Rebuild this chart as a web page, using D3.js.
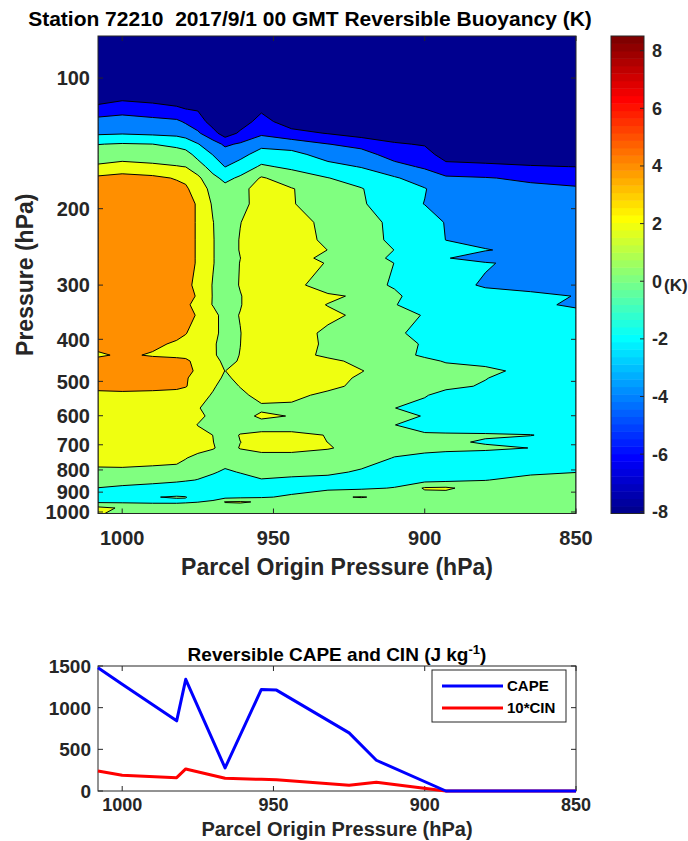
<!DOCTYPE html>
<html>
<head>
<meta charset="utf-8">
<script src="https://cdn.jsdelivr.net/npm/d3@7"></script>
<style>
  body { margin: 0; background: #fff; }
  text { font-family: "Liberation Sans", Arial, Helvetica, sans-serif; font-weight: bold; white-space: pre; }
</style>
</head>
<body>
<svg id="chart" width="688" height="841"></svg>
<script>
// ---- Reversible buoyancy field (K): rows = pressure level, columns = parcel origin pressure ----
const originPressure = [1008, 1000, 990, 982, 979, 975, 970, 966, 961, 954, 944, 932, 921, 910, 900, 893, 880, 865, 850];
const pressureLevels = [80, 100, 110, 118, 126, 134, 142, 150, 160, 170, 180, 195, 215, 236, 249, 260, 267, 300, 318, 333, 352, 387, 410, 435, 449, 473, 491, 513, 538, 576, 601, 630, 665, 690, 712, 751, 809, 844, 881, 924, 948, 979, 1008];
const buoyancy = [
  [-8, -8, -8, -8, -8, -8, -8, -8, -8, -8, -8, -8, -8, -8, -8, -8, -8, -8, -8],
  [-7.5, -7.3, -7.5, -7.5, -7.5, -7.5, -7.5, -7.5, -7.5, -7.5, -7.5, -7.5, -7.5, -7.5, -7.5, -7.5, -7.5, -7.5, -7.5],
  [-7.5, -6.75, -7.08, -7.5, -7.5, -7.5, -7.5, -7.5, -7.5, -7.4, -7.5, -7.5, -7.5, -7.5, -7.5, -7.5, -7.5, -7.5, -7.5],
  [-5.16, -4.65, -5.05, -5.56, -5.97, -6.17, -7.2, -7.5, -7.4, -6.3, -7.1, -7.3, -7.3, -7.3, -7.4, -7.5, -7.5, -7.5, -7.5],
  [-3.33, -3.24, -3.47, -3.66, -4.24, -4.98, -6.9, -7.3, -6.9, -5.32, -7.0, -7.0, -7.0, -7.1, -7.2, -7.3, -7.3, -7.3, -7.3],
  [-2.31, -2.17, -2.38, -2.57, -2.86, -3.74, -5.3, -7.0, -5.7, -4.37, -5.38, -6.1, -6.9, -7.0, -7.0, -7.2, -7.2, -7.2, -7.2],
  [-0.05, 0.14, 0.01, -0.45, -0.92, -1.9, -3.23, -4.32, -3.77, -2.58, -2.94, -3.96, -4.61, -5.81, -6.15, -7.0, -7.0, -7.0, -7.0],
  [0.98, 1.14, 1.01, 0.87, 0.74, -0.67, -2.07, -3.13, -2.62, -1.16, -1.41, -2.81, -3.27, -4.79, -5.28, -6.8, -6.9, -6.9, -6.9],
  [2.27, 2.66, 2.38, 2.09, 1.96, 0.88, -0.84, -2.05, -1.14, 0.27, -0.37, -1.4, -2.1, -3.39, -4.27, -5.44, -5.65, -5.9, -6.02],
  [4.4, 4.8, 4.45, 3.85, 3.57, 2.4, 0.5, -0.49, 0.3, 2.2, 1.0, 0.05, -0.8, -1.8, -2.92, -3.7, -3.9, -4.3, -4.64],
  [5, 5.2, 5.1, 4.6, 4.3, 3.0, 1.4, 0.6, 1.3, 3.0, 2.1, 0.9, 0.1, -1.2, -1.9, -3.0, -3.4, -3.6, -3.8],
  [5, 5.2, 5.1, 5, 4.6, 3.83, 1.75, 1.0, 1.25, 3.0, 2.1, 1.2, 0.2, -1.0, -2.05, -2.6, -3.0, -3.2, -3.4],
  [5.1, 5.2, 5.1, 5, 4.6, 3.83, 2.05, 1.0, 1.95, 3.0, 3.0, 1.36, 0.8, -0.47, -1.0, -2.12, -2.8, -3.0, -3.2],
  [5.1, 5.2, 5.1, 5.0, 4.6, 3.83, 2.1, 1.0, 2.1, 3.2, 3.2, 1.49, 0.8, -0.38, -1.2, -2.02, -2.6, -2.9, -3.1],
  [5.1, 5.2, 5.1, 5.0, 4.6, 3.83, 2.1, 1.0, 2.1, 3.2, 3.4, 1.97, 1.0, -0.02, -0.8, -1.4, -1.9, -2.51, -3.0],
  [5.1, 5.2, 5.1, 5.0, 4.6, 3.83, 2.1, 1.0, 1.98, 3.2, 3.2, 1.23, 0.8, -0.30, -1.3, -1.9, -2.8, -3.0, -3.0],
  [5.1, 5.2, 5.1, 5.0, 4.6, 3.83, 2.1, 1.0, 2.05, 3.3, 3.4, 1.82, 1.0, -0.02, -0.8, -1.3, -1.85, -2.5, -2.9],
  [5.1, 5.2, 5.1, 5.0, 4.6, 3.4, 1.9, 1.0, 2.12, 3.2, 3.0, 0.37, 0.6, -0.17, -1.0, -1.4, -2.19, -2.6, -2.8],
  [5.1, 5.2, 5.1, 5.0, 4.6, 3.83, 1.9, 1.0, 1.9, 3.2, 3.4, 2.5, 1.55, 0.3, -0.88, -1.1, -1.4, -1.6, -2.05],
  [5.1, 5.2, 5.1, 5.0, 4.6, 2.93, 1.93, 1.0, 1.9, 3.2, 3.2, 1.91, 1.0, 0.1, -1.0, -1.2, -1.5, -1.7, -2.22],
  [5.1, 5.2, 5.1, 5.0, 4.6, 3.83, 2.5, 1.41, 2.07, 3.2, 3.4, 2.5, 1.55, 0.6, -0.10, -0.7, -1.1, -1.3, -1.5],
  [5.1, 5.2, 5.1, 4.8, 4.1, 3.0, 2.3, 1.65, 1.95, 3.2, 3.0, 1.57, 1.0, 0.4, -0.71, -0.9, -1.1, -1.3, -1.4],
  [5.1, 5.0, 4.6, 3.6, 3.3, 3.0, 2.2, 1.46, 1.98, 3.2, 3.0, 1.65, 1.0, 0.6, -0.16, -0.6, -1.0, -1.2, -1.3],
  [3.5, 4.5, 3.73, 3.4, 3.2, 2.9, 2.2, 1.5, 2.04, 3.2, 3.0, 1.48, 1.0, 0.6, -0.26, -0.7, -1.0, -1.2, -1.3],
  [5.0, 5.1, 5.0, 4.8, 4.6, 2.93, 2.5, 1.67, 2.09, 3.2, 3.4, 2.6, 1.34, 0.8, 0.4, -0.13, -0.5, -0.8, -1.0],
  [5.0, 5.1, 5.0, 4.8, 4.6, 3.62, 2.6, 1.98, 2.6, 3.2, 3.4, 3.0, 2.1, 0.85, 0.8, 0.6, 0.4, -0.49, -0.8],
  [5.0, 5.1, 5.0, 4.8, 4.2, 3.2, 2.6, 1.72, 2.4, 3.2, 3.4, 2.8, 1.7, 0.9, 0.8, 0.6, 0.1, -1.2, -1.3],
  [4.6, 4.7, 4.6, 4.4, 4.1, 3.2, 2.3, 1.1, 2.09, 3.2, 3.0, 2.6, 1.4, 1.0, 0.8, 0.6, -0.26, -1.0, -1.2],
  [3.4, 3.5, 3.4, 3.3, 3.2, 3.0, 1.77, 1.0, 1.5, 2.72, 2.6, 1.45, 1.2, 0.9, 0.2, -0.91, -1.0, -1.0, -1.1],
  [3.3, 3.4, 3.3, 3.1, 3.0, 2.2, 0.87, 0.8, 1.0, 1.6, 1.5, 1.2, 0.8, 0.03, -0.8, -1.0, -1.1, -1.1, -1.2],
  [3.3, 3.4, 3.3, 3.1, 3.0, 2.6, 1.35, 0.9, 1.2, 2.4, 1.9, 1.2, 1.0, 0.6, -0.1, -0.6, -0.9, -1.0, -1.1],
  [3.3, 3.4, 3.3, 3.1, 3.0, 1.91, 1.0, 0.9, 1.0, 1.2, 1.2, 1.1, 0.9, 0.03, -0.9, -1.0, -1.1, -1.1, -1.2],
  [3.3, 3.4, 3.3, 3.1, 3.0, 2.9, 1.98, 1.0, 2.12, 2.4, 2.4, 1.94, 1.0, 0.5, 0.3, 0.25, 0.2, 0.05, -0.6],
  [3.3, 3.4, 3.3, 3.1, 3.0, 2.9, 2.05, 1.0, 1.98, 2.4, 2.4, 1.99, 1.0, 0.6, 0.4, 0.3, -0.18, -0.5, -0.7],
  [3.3, 3.4, 3.3, 3.1, 3.0, 2.9, 2.15, 1.32, 2.08, 2.4, 2.4, 2.1, 1.53, 0.7, 0.5, 0.4, 0.3, -0.02, -0.8],
  [3.1, 3.2, 3.0, 2.8, 2.1, 1.24, 1.0, 0.9, 1.2, 1.5, 1.5, 1.3, 0.9, -0.09, -0.5, -0.7, -0.9, -1.0, -1.1],
  [1.38, 1.4, 1.2, 1.0, 0.8, 0.5, 0.2, -0.3, 0.1, 0.6, 0.6, 0.4, -0.25, -0.3, -0.5, -0.6, -0.5, -0.3, -0.05],
  [1.0, 0.9, 0.6, 0.3, 0.15, -0.05, -0.6, -0.8, -0.7, -0.1, -0.4, -0.6, -0.7, -0.8, -0.7, -0.5, -0.05, 0.5, 0.9],
  [-0.05, -0.4, -0.7, -0.9, -1.0, -1.0, -1.0, -1.0, -0.9, -0.8, -0.7, -0.5, -0.3, 0.09, 2.2, 2.3, 1.0, 1.0, 1.0],
  [-0.5, -0.8, -0.05, 0.1, 0.05, -0.6, -0.7, -0.6, -0.4, -0.2, 0.3, 1.7, 2.1, 1.5, 1.2, 1.1, 1.0, 1.0, 1.0],
  [-0.3, -0.3, -0.3, -0.3, -0.2, -0.05, 0.3, 2.1, 2.2, 1.8, 1.2, 1.2, 1.2, 1.2, 1.2, 1.2, 1.2, 1.2, 1.2],
  [2.5, 1.79, 1.1, 1.06, 1.06, 1.1, 1.1, 1.1, 1.1, 1.1, 1.1, 1.1, 1.1, 1.1, 1.1, 1.1, 1.1, 1.1, 1.1],
  [2.2, 1.5, 1.1, 1.1, 1.1, 1.1, 1.1, 1.1, 1.1, 1.1, 1.1, 1.1, 1.1, 1.1, 1.1, 1.1, 1.1, 1.1, 1.1]
];
const contourLevels = [-6, -4, -2, 0, 2, 4, 6, 8];
const colorLimits = [-8.06, 8.51];
const colorbarTicks = [-8, -6, -4, -2, 0, 2, 4, 6, 8];
const pressureTicks = [100, 200, 300, 400, 500, 600, 700, 800, 900, 1000];
const originTicks = [1000, 950, 900, 850];

// ---- Reversible CAPE and 10*CIN (J/kg) by parcel origin pressure ----
const parcelOrigin = [1008, 1000, 982, 979, 966, 954, 949, 925, 916, 893, 850];
const capeValues   = [1480, 1282, 842, 1340, 277, 1219, 1211, 698, 369, 0, 0];
const cinTimes10   = [241, 188, 160, 265, 152, 140, 136, 68, 104, 0, 0];
const capeTicks = [0, 500, 1000, 1500];

const svg = d3.select("#chart");
const axisColor = "#262626";

// MATLAB-style 64-step jet colormap
const jetU = [...d3.range(1, 17).map(i => i / 16), ...Array(15).fill(1), ...d3.range(16, 0, -1).map(i => i / 16)];
const uAt = i => (i >= 1 && i <= jetU.length) ? jetU[i - 1] : 0;
const jet = d3.range(1, 65).map(k => d3.rgb(255 * uAt(k - 24), 255 * uAt(k - 8), 255 * uAt(k + 8)).formatHex());
const colorOf = v => {
  const t = (v - colorLimits[0]) / (colorLimits[1] - colorLimits[0]);
  const k = Math.max(0, Math.min(63, Math.floor(t * 64)));
  return jet[k];
};

// ---------------- main contour panel ----------------
const M = { left: 98, right: 576, top: 36, bottom: 513.5 };
const x = d3.scaleLinear().domain([1008, 850]).range([M.left, M.right]);
const y = d3.scaleLog().domain([80, 1008]).range([M.top, M.bottom]);

const nx = originPressure.length, ny = pressureLevels.length;
const colPos = d3.scaleLinear().domain(d3.range(nx)).range(originPressure.map(x));
const rowPos = d3.scaleLinear().domain(d3.range(ny)).range(pressureLevels.map(y));
const clamp = (v, hi) => Math.max(0, Math.min(hi, v));
const gridProjection = d3.geoTransform({
  point(px, py) {
    this.stream.point(colPos(clamp(px - 0.5, nx - 1)), rowPos(clamp(py - 0.5, ny - 1)));
  }
});
const gridPath = d3.geoPath(gridProjection);

svg.append("defs").append("clipPath").attr("id", "plotClip")
  .append("rect").attr("x", M.left).attr("y", M.top)
  .attr("width", M.right - M.left).attr("height", M.bottom - M.top);

const plot = svg.append("g").attr("clip-path", "url(#plotClip)");
plot.append("rect").attr("x", M.left).attr("y", M.top)
  .attr("width", M.right - M.left).attr("height", M.bottom - M.top)
  .attr("fill", colorOf(-8));

const bands = d3.contours().size([nx, ny]).thresholds(contourLevels)(buoyancy.flat());
plot.selectAll("path.band").data(bands).join("path")
  .attr("class", "band")
  .attr("d", gridPath)
  .attr("fill", d => colorOf(d.value))
  .attr("fill-rule", "evenodd")
  .attr("stroke", "#000")
  .attr("stroke-width", 1)
  .attr("stroke-linejoin", "round");

// axes box and inward ticks
const frame = svg.append("g");
frame.append("rect").attr("x", M.left).attr("y", M.top)
  .attr("width", M.right - M.left).attr("height", M.bottom - M.top)
  .attr("fill", "none").attr("stroke", axisColor).attr("stroke-width", 1);
pressureTicks.forEach(p => {
  frame.append("line").attr("x1", M.left).attr("x2", M.left + 5).attr("y1", y(p)).attr("y2", y(p)).attr("stroke", axisColor);
  frame.append("line").attr("x1", M.right).attr("x2", M.right - 5).attr("y1", y(p)).attr("y2", y(p)).attr("stroke", axisColor);
  frame.append("text").attr("x", M.left - 8).attr("y", y(p)).attr("dy", "0.36em")
    .attr("text-anchor", "end").attr("font-size", 20).attr("fill", axisColor).text(p);
});
originTicks.forEach(p => {
  frame.append("line").attr("x1", x(p)).attr("x2", x(p)).attr("y1", M.bottom).attr("y2", M.bottom - 5).attr("stroke", axisColor);
  frame.append("line").attr("x1", x(p)).attr("x2", x(p)).attr("y1", M.top).attr("y2", M.top + 5).attr("stroke", axisColor);
  frame.append("text").attr("x", x(p)).attr("y", M.bottom + 31)
    .attr("text-anchor", "middle").attr("font-size", 20).attr("fill", axisColor).text(p);
});
frame.append("text").attr("x", 337).attr("y", 575).attr("text-anchor", "middle")
  .attr("font-size", 23).attr("fill", axisColor).text("Parcel Origin Pressure (hPa)");
frame.append("text").attr("transform", `translate(33,${(M.top + M.bottom) / 2}) rotate(-90)`)
  .attr("text-anchor", "middle").attr("font-size", 23).attr("fill", axisColor).text("Pressure (hPa)");
svg.append("text").attr("x", 310).attr("y", 26).attr("text-anchor", "middle")
  .attr("font-size", 21).attr("fill", "#000").text("Station 72210  2017/9/1 00 GMT Reversible Buoyancy (K)");

// ---------------- colorbar ----------------
const CB = { left: 611, right: 644, top: 36, bottom: 513.5 };
const cb = d3.scaleLinear().domain(colorLimits).range([CB.bottom, CB.top]);
const cbStep = (colorLimits[1] - colorLimits[0]) / 64;
svg.append("g").selectAll("rect").data(jet).join("rect")
  .attr("x", CB.left).attr("width", CB.right - CB.left)
  .attr("y", (d, i) => cb(colorLimits[0] + (i + 1) * cbStep))
  .attr("height", (d, i) => cb(colorLimits[0] + i * cbStep) - cb(colorLimits[0] + (i + 1) * cbStep) + 0.5)
  .attr("fill", d => d);
svg.append("rect").attr("x", CB.left).attr("y", CB.top)
  .attr("width", CB.right - CB.left).attr("height", CB.bottom - CB.top)
  .attr("fill", "none").attr("stroke", axisColor).attr("stroke-width", 1);
colorbarTicks.forEach(v => {
  svg.append("line").attr("x1", CB.right).attr("x2", CB.right - 4).attr("y1", cb(v)).attr("y2", cb(v)).attr("stroke", axisColor);
  svg.append("text").attr("x", CB.right + 8).attr("y", cb(v)).attr("dy", "0.36em")
    .attr("font-size", 18).attr("fill", axisColor).text(v);
});
svg.append("text").attr("x", 664).attr("y", cb(0) + 10).attr("font-size", 17).attr("fill", axisColor).text("(K)");

// ---------------- CAPE / CIN panel ----------------
const B = { left: 98, right: 576, top: 666, bottom: 791 };
const xb = d3.scaleLinear().domain([1008, 850]).range([B.left, B.right]);
const yb = d3.scaleLinear().domain([0, 1500]).range([B.bottom, B.top]);
const lower = svg.append("g");
lower.append("rect").attr("x", B.left).attr("y", B.top)
  .attr("width", B.right - B.left).attr("height", B.bottom - B.top)
  .attr("fill", "#fff").attr("stroke", axisColor).attr("stroke-width", 1);
capeTicks.forEach(v => {
  lower.append("line").attr("x1", B.left).attr("x2", B.left + 5).attr("y1", yb(v)).attr("y2", yb(v)).attr("stroke", axisColor);
  lower.append("line").attr("x1", B.right).attr("x2", B.right - 5).attr("y1", yb(v)).attr("y2", yb(v)).attr("stroke", axisColor);
  lower.append("text").attr("x", B.left - 7).attr("y", yb(v)).attr("dy", "0.36em")
    .attr("text-anchor", "end").attr("font-size", 19).attr("fill", axisColor).text(v);
});
originTicks.forEach(p => {
  lower.append("line").attr("x1", xb(p)).attr("x2", xb(p)).attr("y1", B.bottom).attr("y2", B.bottom - 5).attr("stroke", axisColor);
  lower.append("line").attr("x1", xb(p)).attr("x2", xb(p)).attr("y1", B.top).attr("y2", B.top + 5).attr("stroke", axisColor);
  lower.append("text").attr("x", xb(p)).attr("y", B.bottom + 20)
    .attr("text-anchor", "middle").attr("font-size", 18).attr("fill", axisColor).text(p);
});
const line = d3.line().x(d => xb(d[0])).y(d => yb(d[1]));
lower.append("path").attr("d", line(d3.zip(parcelOrigin, cinTimes10)))
  .attr("fill", "none").attr("stroke", "#ff0000").attr("stroke-width", 3).attr("stroke-linejoin", "round");
lower.append("path").attr("d", line(d3.zip(parcelOrigin, capeValues)))
  .attr("fill", "none").attr("stroke", "#0000ff").attr("stroke-width", 3).attr("stroke-linejoin", "round");

const title2 = lower.append("text").attr("x", (B.left + B.right) / 2).attr("y", 661)
  .attr("text-anchor", "middle").attr("font-size", 19).attr("fill", "#000");
title2.append("tspan").text("Reversible CAPE and CIN (J kg");
title2.append("tspan").attr("font-size", 13).attr("baseline-shift", "super").text("-1");
title2.append("tspan").text(")");
lower.append("text").attr("x", 337).attr("y", 836).attr("text-anchor", "middle")
  .attr("font-size", 20).attr("fill", axisColor).text("Parcel Origin Pressure (hPa)");

// legend
const L = { x: 432, y: 670, w: 134, h: 52 };
const legend = lower.append("g");
legend.append("rect").attr("x", L.x).attr("y", L.y).attr("width", L.w).attr("height", L.h)
  .attr("fill", "#fff").attr("stroke", axisColor).attr("stroke-width", 1);
[["CAPE", "#0000ff"], ["10*CIN", "#ff0000"]].forEach(([label, col], i) => {
  const ly = L.y + 16 + i * 22;
  legend.append("line").attr("x1", L.x + 10).attr("x2", L.x + 71).attr("y1", ly).attr("y2", ly)
    .attr("stroke", col).attr("stroke-width", 3);
  legend.append("text").attr("x", L.x + 75).attr("y", ly).attr("dy", "0.36em")
    .attr("font-size", 15).attr("fill", "#000").text(label);
});
</script>
</body>
</html>
